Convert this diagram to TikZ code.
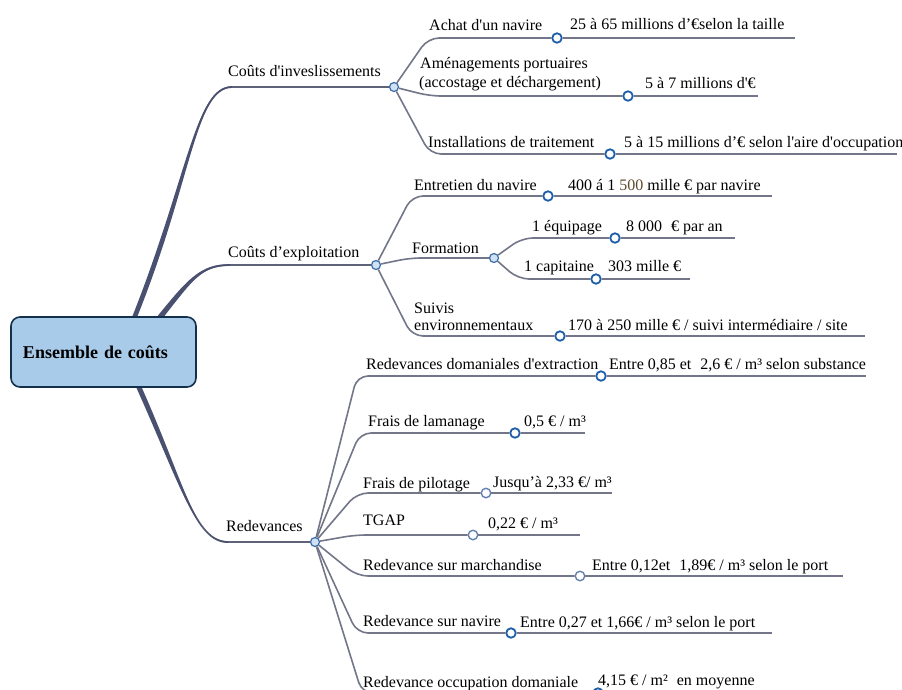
\documentclass[tikz,border=0pt]{standalone}
\usepackage{fontspec}
\setmainfont{Liberation Serif}[Ligatures=TeXOff]
\usepackage{tikz}

\definecolor{trunkgray}{HTML}{4A5170}
\definecolor{stemgray}{HTML}{5E6377}
\definecolor{twiggray}{HTML}{727688}
\definecolor{hubblue}{HTML}{3C6DA6}
\definecolor{hubfill}{HTML}{D0E1F5}
\definecolor{leafblue}{HTML}{1E5DA8}
\definecolor{leafpale}{HTML}{6482B0}
\definecolor{rootfill}{HTML}{A9CBEA}
\definecolor{rootline}{HTML}{13304C}
\definecolor{numbrown}{HTML}{5C4A2C}

\begin{document}
\begin{tikzpicture}[x=1pt,y=-1pt,
		lbl/.style={anchor=base west,inner sep=0pt,font=\fontsize{16}{19}\selectfont},
		hub/.style={circle,draw=hubblue,fill=hubfill,line width=1.2pt,minimum size=9pt,inner sep=0pt},
		leaf/.style={circle,draw=leafblue,fill=white,line width=1.8pt,minimum size=9.5pt,inner sep=0pt},
		rootbox/.style={draw=rootline,fill=rootfill,line width=1.6pt,rounded corners=9pt,
			minimum height=70pt,text width=161pt,inner xsep=12pt,align=left,
			font=\fontsize{18}{21}\selectfont\bfseries},
		taper/.style={fill=trunkgray},
		trunkstem/.style={draw=stemgray,line width=1.8pt},
		twig/.style={draw=twiggray,line width=1.6pt,rounded corners=11pt}]
		\useasboundingbox (0,0) rectangle (902,689);
		\clip (0,0) rectangle (902,689);
		%\draw[help lines,step=50] (0,0) grid (902,689);
		\node[hub] (inv) at (394,87) {};
		\node[hub] (expl) at (376,265) {};
		\node[hub] (redev) at (315,542) {};
		\node[hub] (form) at (494,258) {};
		% trunks from the root box, thick at the root
		\coordinate (invA) at (133,321);
		\coordinate (invC) at (232,87);
		\coordinate (explA) at (157,321);
		\coordinate (explC) at (230,265);
		\coordinate (redevA) at (137,383);
		\coordinate (redevC) at (228,542);
		\draw[trunkstem] (invA) .. controls (190,180) and (195,87) .. (invC) -- (inv);
		\fill[taper] (130.5,321) .. controls (187.5,179) and (195,86.2) .. (232,86.2)
			-- (232,87.8) .. controls (195,87.8) and (192.5,181) .. (135.5,321) -- cycle;
		\draw[trunkstem] (explA) .. controls (190,280) and (200,265) .. (explC) -- (expl);
		\fill[taper] (154.8,319.5) .. controls (188,278.5) and (200,264.2) .. (230,264.2)
			-- (230,265.8) .. controls (200,265.8) and (192,281.5) .. (159.2,322.5) -- cycle;
		\draw[trunkstem] (redevA) .. controls (183,485) and (195,542) .. (redevC) -- (redev);
		\fill[taper] (134.8,384.2) .. controls (180.8,486) and (195,541.2) .. (228,541.2)
			-- (228,542.8) .. controls (195,542.8) and (185.2,484) .. (139.2,381.8) -- cycle;
		\node[rootbox] (root) at (103.5,352) {Ensemble de coûts};
		\node[lbl] (invL) at (228,76) {Coûts d'inveslissements};
		\node[lbl] (explL) at (228,257) {Coûts d’exploitation};
		\node[lbl] (redevL) at (226,531) {Redevances};
		% investissements
		\node[leaf] (achat) at (557,38) {};
		\node[leaf] (amen) at (628,96) {};
		\node[leaf] (inst) at (610,154) {};
		\coordinate (achatK) at (428,38);
		\coordinate (achatE) at (795,38);
		\coordinate (amenK) at (430,96);
		\coordinate (amenE) at (758,96);
		\coordinate (instK) at (430,154);
		\coordinate (instE) at (897,154);
		\draw[twig] (inv) -- (achatK) -- (achat);
		\draw[twig] (achat) -- (achatE);
		\draw[twig] (inv) -- (amenK) -- (amen);
		\draw[twig] (amen) -- (amenE);
		\draw[twig] (inv) -- (instK) -- (inst);
		\draw[twig] (inst) -- (instE);
		\node[lbl] (achatL) at (429,30) {Achat d'un navire};
		\node[lbl] (achatV) at (570,29) {25 à 65 millions d’€selon la taille};
		\node[lbl] (amenL) at (420,68) {Aménagements portuaires};
		\node[lbl] (amenM) at (419,87) {(accostage et déchargement)};
		\node[lbl] (amenV) at (645,88) {5 à 7 millions d'€};
		\node[lbl] (instL) at (428,147) {Installations de traitement};
		\node[lbl] (instV) at (624,147) {5 à 15 millions d’€ selon l'aire d'occupation};
		% exploitation
		\node[leaf] (entr) at (548,196) {};
		\node[leaf] (equi) at (615,238) {};
		\node[leaf] (capi) at (596,279) {};
		\node[leaf] (suiv) at (560,336) {};
		\coordinate (entrK) at (412,196);
		\coordinate (entrE) at (772,196);
		\coordinate (formK) at (410,258);
		\coordinate (equiK) at (522,238);
		\coordinate (equiE) at (735,238);
		\coordinate (capiK) at (518,279);
		\coordinate (capiE) at (690,279);
		\coordinate (suivK) at (412,336);
		\coordinate (suivE) at (865,336);
		\draw[twig] (expl) -- (entrK) -- (entr);
		\draw[twig] (entr) -- (entrE);
		\draw[twig] (expl) -- (formK) -- (form);
		\draw[twig] (form) -- (equiK) -- (equi);
		\draw[twig] (equi) -- (equiE);
		\draw[twig] (form) -- (capiK) -- (capi);
		\draw[twig] (capi) -- (capiE);
		\draw[twig] (expl) -- (suivK) -- (suiv);
		\draw[twig] (suiv) -- (suivE);
		\node[lbl] (entrL) at (414,190) {Entretien du navire};
		\node[lbl] (entrV) at (568,190) {400 á 1 {\color{numbrown}500} mille € par navire};
		\node[lbl] (formL) at (412,253) {Formation};
		\node[lbl] (equiL) at (532,231) {1 équipage};
		\node[lbl] (equiV) at (626,231) {8 000\hspace{5pt} € par an};
		\node[lbl] (capiL) at (524,271) {1 capitaine};
		\node[lbl] (capiV) at (608,271) {303 mille €};
		\node[lbl] (suivL) at (414,313) {Suivis};
		\node[lbl] (suivM) at (414,330) {environnementaux};
		\node[lbl] (suivV) at (568,330) {170 à 250 mille € / suivi intermédiaire / site};
		% redevances
		\node[leaf] (doma) at (601,376) {};
		\node[leaf] (lama) at (515,433) {};
		{
			\tikzset{leaf/.append style={draw=leafpale,line width=1.4pt}}
			\node[leaf] (pilo) at (486,493) {};
			\node[leaf] (tgap) at (473,535) {};
			\node[leaf] (marc) at (580,576) {};
		}
		\node[leaf] (navi) at (511,633) {};
		\node[leaf] (occu) at (598,693) {};
		\coordinate (domaK) at (357,376);
		\coordinate (domaE) at (866,376);
		\coordinate (lamaK) at (360,433);
		\coordinate (lamaE) at (585,433);
		\coordinate (piloK) at (357,493);
		\coordinate (piloE) at (612,493);
		\coordinate (tgapK) at (355,535);
		\coordinate (tgapE) at (580,535);
		\coordinate (marcK) at (357,576);
		\coordinate (marcE) at (843,576);
		\coordinate (naviK) at (357,633);
		\coordinate (naviE) at (772,633);
		\coordinate (occuK) at (362,693);
		\coordinate (occuE) at (800,693);
		\draw[twig] (redev) -- (domaK) -- (doma);
		\draw[twig] (doma) -- (domaE);
		\draw[twig] (redev) -- (lamaK) -- (lama);
		\draw[twig] (lama) -- (lamaE);
		\draw[twig] (redev) -- (piloK) -- (pilo);
		\draw[twig] (pilo) -- (piloE);
		\draw[twig] (redev) -- (tgapK) -- (tgap);
		\draw[twig] (tgap) -- (tgapE);
		\draw[twig] (redev) -- (marcK) -- (marc);
		\draw[twig] (marc) -- (marcE);
		\draw[twig] (redev) -- (naviK) -- (navi);
		\draw[twig] (navi) -- (naviE);
		\draw[twig] (redev) -- (occuK) -- (occu);
		\draw[twig] (occu) -- (occuE);
		\node[lbl] (domaL) at (366,369) {Redevances domaniales d'extraction};
		\node[lbl] (domaV) at (609,369) {Entre 0,85 et\hspace{5pt} 2,6 € / m³ selon substance};
		\node[lbl] (lamaL) at (368,426) {Frais de lamanage};
		\node[lbl] (lamaV) at (524,426) {0,5 € / m³};
		\node[lbl] (piloL) at (363,488) {Frais de pilotage};
		\node[lbl] (piloV) at (493,487) {Jusqu’à 2,33 €/ m³};
		\node[lbl] (tgapL) at (363,525) {TGAP};
		\node[lbl] (tgapV) at (488,528) {0,22 € / m³};
		\node[lbl] (marcL) at (363,570) {Redevance sur marchandise};
		\node[lbl] (marcV) at (592,570) {Entre 0,12et\hspace{5pt} 1,89€ / m³ selon le port};
		\node[lbl] (naviL) at (363,626) {Redevance sur navire};
		\node[lbl] (naviV) at (520,627) {Entre 0,27 et 1,66€ / m³ selon le port};
		\node[lbl] (occuL) at (363,687) {Redevance occupation domaniale};
		\node[lbl] (occuV) at (598,685) {4,15 € / m²\hspace{5pt} en moyenne};
	\end{tikzpicture}
\end{document}
